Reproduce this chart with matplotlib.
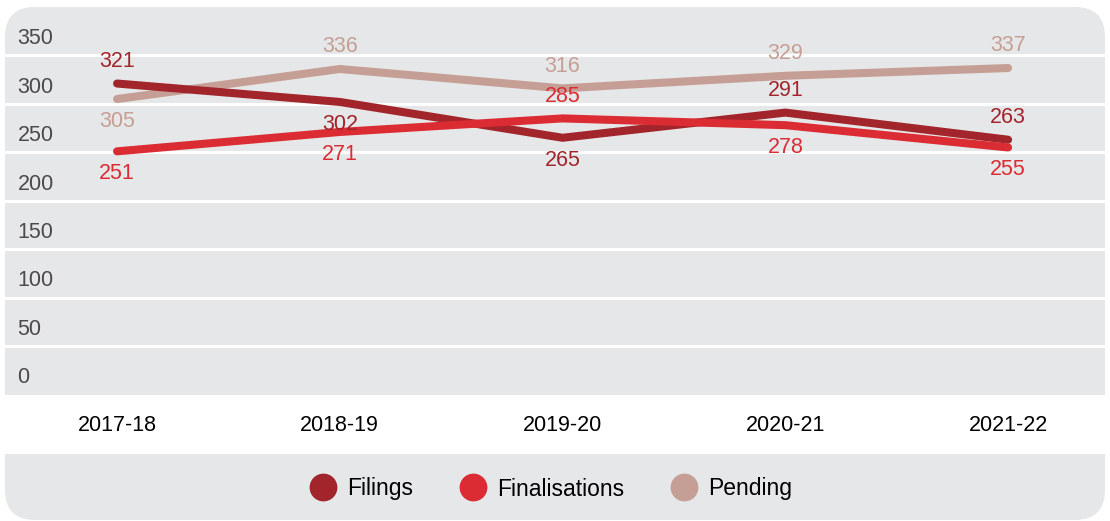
import matplotlib.pyplot as plt
import matplotlib.patches as mpatches

years = ['2017-18', '2018-19', '2019-20', '2020-21', '2021-22']
filings = [321, 302, 265, 291, 263]
finalisations = [251, 271, 285, 278, 255]
pending = [305, 336, 316, 329, 337]

# label above (1) or below (-1) each point
filings_pos = [1, -1, -1, 1, 1]
finalisations_pos = [-1, -1, 1, -1, -1]
pending_pos = [-1, 1, 1, 1, 1]

y_ticks = [0, 50, 100, 150, 200, 250, 300, 350]

c_fil = '#A1252B'
c_fin = '#DB2B33'
c_pen = '#C59F95'
bg = '#E6E7E8'

plt.rcParams['font.family'] = ['Liberation Sans', 'DejaVu Sans']

fig = plt.figure(figsize=(11.1, 5.21), dpi=100)

# grey panels (inches, from bottom-left)
tr = fig.dpi_scale_trans
panels = [
    mpatches.FancyBboxPatch((0.05, 1.265), 11.0, 3.875, boxstyle='round,pad=0,rounding_size=0.3'),
    mpatches.Rectangle((0.05, 1.265), 11.0, 1.0),
    mpatches.FancyBboxPatch((0.05, 0.01), 11.0, 0.66, boxstyle='round,pad=0,rounding_size=0.3'),
    mpatches.Rectangle((0.05, 0.35), 11.0, 0.32),
]
for p in panels:
    p.set_transform(tr)
    p.set_facecolor(bg)
    p.set_edgecolor('none')
    p.set_zorder(-5)
    fig.patches.append(p)

ax = fig.add_axes([5 / 1110, 1 - 394.5 / 521, 1100 / 1110, 387.5 / 521])
ax.set_zorder(1)
ax.set_facecolor('none')
for s in ax.spines.values():
    s.set_visible(False)

x = list(range(len(years)))
ax.set_xlim(-0.503, 4.435)
ax.set_ylim(0, 400)

for v in y_ticks[1:]:
    ax.axhline(v, color='white', lw=2.2, zorder=1)
for v in y_ticks:
    ax.annotate(str(v), (0, v), xycoords=('axes fraction', 'data'), xytext=(9, 12), textcoords='offset points',
                ha='left', va='center', fontsize=15.5, color='#4A4A4A')

series = [(pending, c_pen, pending_pos), (filings, c_fil, filings_pos), (finalisations, c_fin, finalisations_pos)]
for vals, col, pos in series:
    ax.plot(x, vals, color=col, lw=5.8, solid_capstyle='round', solid_joinstyle='miter', zorder=3)
    for xi, v, p in zip(x, vals, pos):
        ax.annotate(str(v), (xi, v), xytext=(0, 16 * p), textcoords='offset points',
                    ha='center', va='center', fontsize=15.5, color=col, zorder=4)

ax.set_yticks([])
ax.set_xticks(x)
ax.set_xticklabels(years, fontsize=15.5, color='black')
ax.tick_params(axis='x', length=0, pad=15)

handles = [plt.Line2D([], [], ls='none', marker='o', markersize=19, color=c, label=l)
           for c, l in [(c_fil, 'Filings'), (c_fin, 'Finalisations'), (c_pen, 'Pending')]]
fig.legend(handles=handles, loc='center', bbox_to_anchor=(0.496, 1 - 489 / 521), ncol=3, frameon=False,
           fontsize=16.5, handletextpad=0.45, columnspacing=2.0, handlelength=1.2)

fig.savefig('out.png', dpi=100)
